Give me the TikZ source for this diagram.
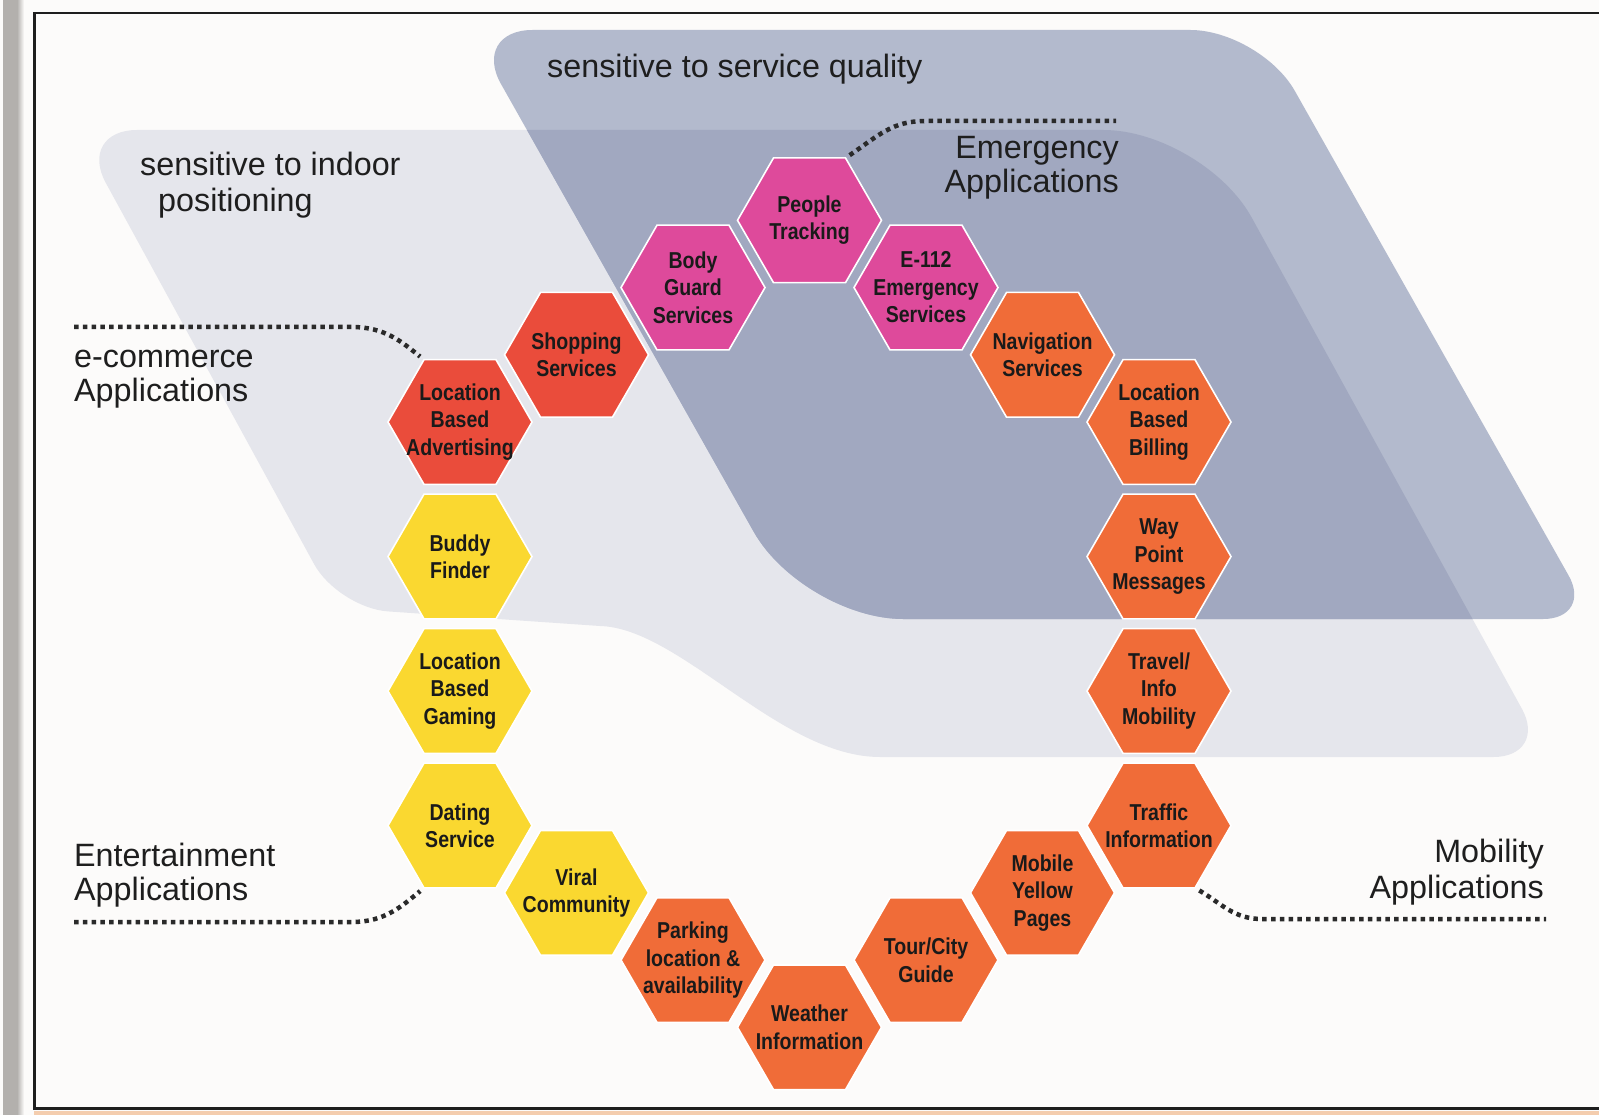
\documentclass[tikz,border=0pt]{standalone}
\usepackage{fontspec}
\setmainfont{Liberation Sans}
\newfontfamily\hexfont[FakeStretch=0.85]{Liberation Sans}
\usetikzlibrary{shapes.geometric}

% palette
\definecolor{paper}{HTML}{FCFBFA}
\definecolor{edgegray}{HTML}{B3B0AD}
\definecolor{frameink}{HTML}{1E1E1E}
\definecolor{lightfill}{HTML}{E5E6EC}
\definecolor{darkfill}{HTML}{B3BACD}
\definecolor{overlapfill}{HTML}{A1A8C0}
\definecolor{hexmag}{HTML}{DE4A9B}
\definecolor{hexred}{HTML}{EA4C3B}
\definecolor{hexorange}{HTML}{F06C38}
\definecolor{hexyellow}{HTML}{FAD830}
\definecolor{hexink}{HTML}{1A1A1A}
\definecolor{labelink}{HTML}{1E1E1E}
\definecolor{leaderink}{HTML}{2A2A2A}
\definecolor{peach}{HTML}{F4CDAE}

% outline of the "indoor positioning" band
\def\LightRegion{(105.7,182.7) .. controls (89.9,153.7) and (104,130) .. (137,130)
  -- (1103.5,130) .. controls (1158.5,130) and (1225.2,169.4) .. (1251.7,217.6)
  -- (1521.9,708.8) .. controls (1536.5,735.3) and (1523.7,757) .. (1493.4,757)
  -- (880,757) .. controls (780,757) and (680,628) .. (600,626)
  -- (387.9,611.4) .. controls (360.5,609.5) and (327.2,588.2) .. (314.1,564.1) -- cycle}
% outline of the "service quality" band
\def\DarkRegion{(501,84) .. controls (484.2,54.3) and (498.4,30) .. (532.5,30)
  -- (1190.4,30) .. controls (1228.9,30) and (1275.9,57.4) .. (1294.8,90.9)
  -- (1568.6,575.5) .. controls (1582.1,599.4) and (1570.7,619) .. (1543.2,619)
  -- (903,619) .. controls (848,619) and (780.9,579.8) .. (753.8,531.9) -- cycle}

% one honeycomb cell: name, column, half-row, fill, text
\newcommand\HexCell[5]{%
  \node[hexshape, fill=#4] (#1) at ({460+116.5*#2},{220.3+67.25*#3}) {};
  \node[hexlabel] (#1-t) at (#1.center) {#5};
}

\begin{document}
\begin{tikzpicture}[x=1pt, y=-1pt,
  hexshape/.style={regular polygon, regular polygon sides=6, minimum size=144pt,
    inner sep=0pt, outer sep=0pt, draw=white, line width=1.6pt},
  hexlabel/.style={align=center, inner sep=0pt, text=hexink,
    font=\hexfont\bfseries\fontsize{23}{27.5}\selectfont},
  tag/.style={inner sep=0pt, text=labelink, font=\fontsize{32.3}{38}\selectfont},
  leader/.style={draw=leaderink, line width=4.5pt, dash pattern=on 4.5pt off 4.3pt}]

\useasboundingbox (0,0) rectangle (1599,1115);
\fill[paper] (0,0) rectangle (1599,1115);

% page edge and frame
\fill[edgegray] (3,0) rectangle (17,1115);
\shade[left color=edgegray, right color=paper] (17,0) rectangle (24,1115);
\fill[peach] (34,1111) rectangle (1599,1115);
\draw[frameink, line width=2.5pt] (1599,13) -- (34.5,13) -- (34.5,1108.5) -- (1599,1108.5);

% the two sensitivity bands and their overlap
\fill[lightfill] \LightRegion;
\fill[darkfill] \DarkRegion;
\begin{scope}
  \clip \LightRegion;
  \fill[overlapfill] \DarkRegion;
\end{scope}

% honeycomb ring
\HexCell{lba}{0}{3}{hexred}{Location\\Based\\Advertising}
\HexCell{shop}{1}{2}{hexred}{Shopping\\Services}
\HexCell{guard}{2}{1}{hexmag}{Body\\Guard\\Services}
\HexCell{people}{3}{0}{hexmag}{People\\Tracking}
\HexCell{eone}{4}{1}{hexmag}{E-112\\Emergency\\Services}
\HexCell{navi}{5}{2}{hexorange}{Navigation\\Services}
\HexCell{billing}{6}{3}{hexorange}{Location\\Based\\Billing}
\HexCell{waypoint}{6}{5}{hexorange}{Way\\Point\\Messages}
\HexCell{travel}{6}{7}{hexorange}{Travel/\\Info\\Mobility}
\HexCell{traffic}{6}{9}{hexorange}{Traffic\\Information}
\HexCell{yellow}{5}{10}{hexorange}{Mobile\\Yellow\\Pages}
\HexCell{tour}{4}{11}{hexorange}{Tour/City\\Guide}
\HexCell{weather}{3}{12}{hexorange}{Weather\\Information}
\HexCell{parking}{2}{11}{hexorange}{Parking\\location \&\\availability}
\HexCell{viral}{1}{10}{hexyellow}{Viral\\Community}
\HexCell{dating}{0}{9}{hexyellow}{Dating\\Service}
\HexCell{gaming}{0}{7}{hexyellow}{Location\\Based\\Gaming}
\HexCell{buddy}{0}{5}{hexyellow}{Buddy\\Finder}

% band titles
\node[tag, anchor=base west] (svc) at (547,78) {sensitive to service quality};
\node[tag, anchor=base west] (indoorA) at (140,176) {sensitive to indoor};
\node[tag, anchor=base west] (indoorB) at (158,212) {positioning};

% group captions
\node[tag, anchor=base east] (emergA) at (1119,159) {Emergency};
\node[tag, anchor=base east] (emergB) at (1119,193) {Applications};
\node[tag, anchor=base west] (ecomA) at (74,367) {e-commerce};
\node[tag, anchor=base west] (ecomB) at (74,401) {Applications};
\node[tag, anchor=base west] (entA) at (74,866) {Entertainment};
\node[tag, anchor=base west] (entB) at (74,900) {Applications};
\node[tag, anchor=base east] (mobA) at (1544,862) {Mobility};
\node[tag, anchor=base east] (mobB) at (1544,898) {Applications};

% dotted leaders
\coordinate (ecomEnd) at (74,327);
\coordinate (entEnd) at (74,922);
\coordinate (emergEnd) at (1116,121);
\coordinate (mobEnd) at (1546,919);
\draw[leader, shorten >=5pt] (ecomEnd) -- (352,327)
  .. controls (385,327) and (402,342) .. (lba.120);
\draw[leader, shorten >=5pt] (entEnd) -- (352,922)
  .. controls (385,922) and (402,906) .. (dating.240);
\draw[leader, shorten <=5pt] (people.60) .. controls (878,136) and (892,121) .. (925,121)
  -- (emergEnd);
\draw[leader, shorten <=5pt] (traffic.300) .. controls (1222,904) and (1234,919) .. (1262,919)
  -- (mobEnd);

\end{tikzpicture}
\end{document}
